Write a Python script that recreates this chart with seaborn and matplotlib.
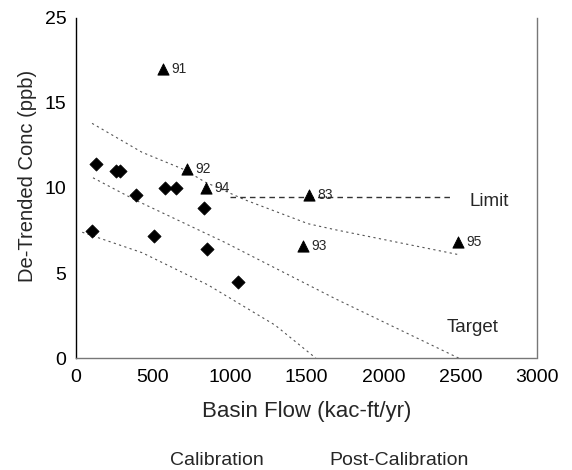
import pandas as pd
import seaborn as sns
import matplotlib.pyplot as plt

# calibration points (diamonds)
cal_flow = [104, 130, 262, 285, 390, 508, 580, 650, 833, 852, 1054]
cal_conc = [7.5, 11.4, 11.0, 11.0, 9.6, 7.2, 10.0, 10.0, 8.8, 6.4, 4.5]

# post-calibration points (triangles) with year labels
post_flow = [566, 722, 846, 1516, 1477, 2485]
post_conc = [17.0, 11.1, 10.0, 9.6, 6.6, 6.8]
post_year = ['91', '92', '94', '83', '93', '95']

# curves
upper_flow = [104, 429, 709, 839, 1100, 1510, 1685, 2480]
upper_conc = [13.8, 12.1, 11.06, 10.35, 9.3, 7.9, 7.55, 6.1]
target_flow = [110, 384, 969, 1685, 2490]
target_conc = [10.6, 9.3, 6.8, 3.5, 0.0]
lower_flow = [40, 429, 859, 1295, 1560]
lower_conc = [7.4, 6.2, 4.3, 1.94, 0.0]
limit_flow = [1000, 2450]
limit_conc = [9.5, 9.5]

x_ticks = [0, 500, 1000, 1500, 2000, 2500, 3000]
x_labels = ['0', '500', '1000', '1500', '2000', '2500', '3000']
y_ticks = [0, 5, 10, 15, 20]
y_labels = ['0', '5', '10', '15', '25']

sns.set_theme(style="white")
plt.rcParams['font.family'] = ['Liberation Sans', 'DejaVu Sans']

fig = plt.figure(figsize=(5.72, 4.70), dpi=100)
ax = fig.add_axes([0.133, 0.238, 0.806, 0.724])

df_cal = pd.DataFrame({'flow': cal_flow, 'conc': cal_conc})
df_post = pd.DataFrame({'flow': post_flow, 'conc': post_conc, 'year': post_year})

for fl, cc in [(upper_flow, upper_conc), (target_flow, target_conc), (lower_flow, lower_conc)]:
    sns.lineplot(x=fl, y=cc, ax=ax, color='#555555', linewidth=0.8,
                 linestyle=(0, (2, 3)), sort=False)
sns.lineplot(x=limit_flow, y=limit_conc, ax=ax, color='#333333', linewidth=1.0,
             linestyle=(0, (4, 3)))

sns.scatterplot(data=df_cal, x='flow', y='conc', marker='D', s=45, color='black',
                edgecolor='black', ax=ax, zorder=3)
sns.scatterplot(data=df_post, x='flow', y='conc', marker='^', s=65, color='black',
                edgecolor='black', ax=ax, zorder=3)

for f, c, yr in zip(post_flow, post_conc, post_year):
    ax.text(f + 55, c, yr, fontsize=10, va='center', ha='left')

ax.text(2563, 9.2, 'Limit', fontsize=13.5, va='center', ha='left')
ax.text(2414, 1.8, 'Target', fontsize=13.5, va='center', ha='left')

ax.set_xlim(0, 3000)
ax.set_ylim(0, 20)
ax.set_xticks(x_ticks)
ax.set_xticklabels(x_labels)
ax.set_yticks(y_ticks)
ax.set_yticklabels(y_labels)
ax.tick_params(direction='in', length=4, labelsize=14, colors='black')
ax.tick_params(axis='x', pad=8)
ax.tick_params(axis='y', pad=7)
ax.set_xlabel('Basin Flow (kac-ft/yr)', fontsize=16)
ax.set_ylabel('De-Trended Conc (ppb)', fontsize=14.5)
ax.xaxis.set_label_coords(0.5, -0.125)
ax.yaxis.set_label_coords(-0.085, 0.535)

ax.spines['top'].set_visible(False)
ax.spines['left'].set_color('black')
ax.spines['left'].set_linewidth(1.0)
for s in ['bottom', 'right']:
    ax.spines[s].set_color('#777777')
    ax.spines[s].set_linestyle((0, (1, 1)))
    ax.spines[s].set_linewidth(1.0)

fig.text(0.38, 0.021, 'Calibration', fontsize=14, ha='center', va='center')
fig.text(0.698, 0.021, 'Post-Calibration', fontsize=14, ha='center', va='center')

plt.savefig('out.png', dpi=100)
